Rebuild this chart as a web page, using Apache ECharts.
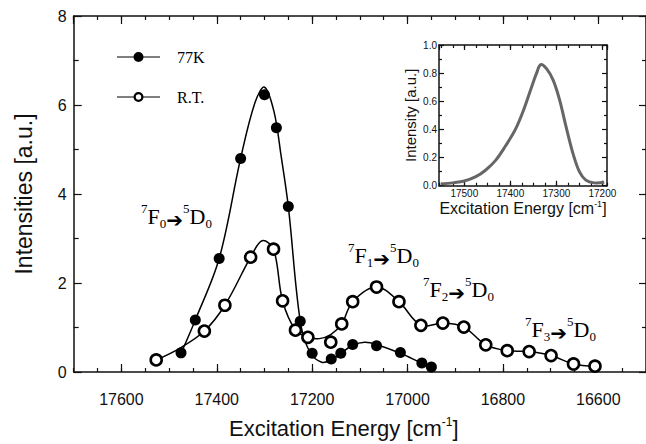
<!DOCTYPE html>
<html><head><meta charset="utf-8">
<script src="https://cdn.jsdelivr.net/npm/echarts@6/dist/echarts.min.js"></script>
<style>html,body{margin:0;padding:0;background:#fff}#c{width:646px;height:444px;background:#fff}</style>
</head><body><div id="c"></div>
<script>
// ---- data ----
const xTickLabels = [17600, 17400, 17200, 17000, 16800, 16600];
const yTickLabels = [0, 2, 4, 6, 8];
const insetXTickLabels = [17500, 17400, 17300, 17200];

// 77K measured points (filled)
const k77X = [17475, 17445, 17395, 17350, 17300, 17275, 17250, 17225, 17200, 17160, 17140, 17115, 17065, 17015, 16970, 16950];
const k77Y = [0.43, 1.17, 2.55, 4.80, 6.23, 5.49, 3.72, 1.14, 0.42, 0.29, 0.42, 0.62, 0.59, 0.44, 0.20, 0.11];
// R.T. measured points (open)
const rtX = [17527, 17426, 17383, 17329, 17281, 17262, 17235, 17209, 17161, 17138, 17115, 17065, 17018, 16972, 16926, 16882, 16836, 16791, 16745, 16699, 16652, 16607];
const rtY = [0.27, 0.92, 1.50, 2.58, 2.76, 1.60, 0.94, 0.78, 0.67, 1.08, 1.58, 1.91, 1.58, 1.05, 1.10, 1.01, 0.61, 0.48, 0.46, 0.37, 0.18, 0.13];

// fitted curves
const fit77X = [17475, 17445, 17395, 17350, 17320, 17300, 17280, 17265, 17250, 17225, 17205, 17180, 17160, 17140, 17115, 17090, 17065, 17015, 16970, 16950];
const fit77Y = [0.42, 1.17, 2.55, 4.80, 6.05, 6.40, 5.85, 4.85, 3.72, 1.14, 0.45, 0.22, 0.27, 0.42, 0.60, 0.67, 0.62, 0.42, 0.20, 0.11];
const fitRtX = [17527, 17475, 17426, 17383, 17329, 17305, 17281, 17262, 17235, 17209, 17185, 17161, 17138, 17115, 17065, 17018, 16972, 16926, 16882, 16836, 16791, 16745, 16699, 16652, 16607];
const fitRtY = [0.27, 0.55, 0.92, 1.50, 2.58, 2.95, 2.76, 1.60, 0.94, 0.78, 0.75, 0.84, 1.08, 1.58, 1.91, 1.58, 1.05, 1.10, 1.01, 0.61, 0.48, 0.46, 0.37, 0.18, 0.13];

// inset spectrum
const insetX = [17551, 17525, 17500, 17475, 17454, 17432, 17411, 17389, 17371, 17354, 17343, 17334, 17321, 17307, 17293, 17279, 17264, 17250, 17236, 17218, 17196];
const insetY = [0.012, 0.02, 0.033, 0.064, 0.11, 0.18, 0.28, 0.40, 0.54, 0.70, 0.80, 0.86, 0.83, 0.75, 0.61, 0.42, 0.23, 0.10, 0.04, 0.02, 0.024];

// ---- chart ----
const zip = (a, b) => a.map((v, i) => [v, b[i]]);
const AX = '#111';
const SANS = 'Liberation Sans';
const SERIF = 'Liberation Serif';

function xAxisDef(grid, pos, min, max, tickLen, major, step, extra) {
  const a = {
    gridIndex: grid, type: 'value', position: pos, min: min, max: max, inverse: true,
    minInterval: step, maxInterval: step,
    axisLine: { show: major, onZero: false, lineStyle: { color: AX, width: 1.5 } },
    axisTick: { show: true, inside: true, length: tickLen, lineStyle: { color: AX, width: 1.2 } },
    axisLabel: { show: false },
    splitLine: { show: false }
  };
  return Object.assign(a, extra || {});
}
function yAxisDef(grid, pos, max, step, tickLen, minorLen, extra) {
  const a = {
    gridIndex: grid, type: 'value', position: pos, min: 0, max: max, interval: step,
    axisLine: { show: true, onZero: false, lineStyle: { color: AX, width: 1.5 } },
    axisTick: { show: true, inside: true, length: tickLen, lineStyle: { color: AX, width: 1.2 } },
    minorTick: { show: true, splitNumber: 2, length: minorLen, lineStyle: { color: AX, width: 1.2 } },
    axisLabel: { show: false },
    splitLine: { show: false }
  };
  return Object.assign(a, extra || {});
}

// smooth curve drawn once per series through the library's coordinate mapping
function curveSeries(name, xs, ys, xi, yi, color, width) {
  return {
    type: 'custom', name: name, xAxisIndex: xi, yAxisIndex: yi,
    data: zip(xs, ys), silent: true, z: 2,
    itemStyle: { color: color },
    renderItem: function (params, api) {
      if (params.dataIndex !== 0) return null;
      const pts = xs.map((x, i) => api.coord([x, ys[i]]));
      return {
        type: 'polyline', silent: true,
        shape: { points: pts, smooth: 0.35 },
        style: { stroke: color, lineWidth: width, fill: null }
      };
    }
  };
}

const icon77 = 'path://M0,4.4V5.6H17V4.4Z M26,4.4V5.6H43V4.4Z M16.5,5A5,5,0,1,0,26.5,5A5,5,0,1,0,16.5,5Z';
const iconRT = 'path://M0,4.4V5.6H17V4.4Z M26,4.4V5.6H43V4.4Z M16.5,5A5,5,0,1,0,26.5,5A5,5,0,1,0,16.5,5Z M18.8,5A2.7,2.7,0,1,1,24.2,5A2.7,2.7,0,1,1,18.8,5Z';

const option = {
  animation: false,
  grid: [
    { left: 73.7, right: -4, top: 16, bottom: 64 },
    { left: 439, top: 45, width: 168, height: 140.7 }
  ],
  legend: {
    data: [{ name: '77K', icon: icon77 }, { name: 'R.T.', icon: iconRT }],
    orient: 'vertical', left: 112, top: 44,
    itemWidth: 43, itemHeight: 10, itemGap: 24,
    textStyle: { fontFamily: SERIF, fontSize: 16, color: '#000', padding: [0, 0, 0, 12], lineHeight: 16 }
  },
  xAxis: [
    xAxisDef(0, 'bottom', 16500, 17700, 8, true, 200, {
      axisLabel: {
        show: true, margin: 19, fontSize: 16, fontFamily: SANS, color: AX,
        showMinLabel: false, showMaxLabel: false,
        formatter: v => xTickLabels.includes(v) ? String(v) : ''
      },
      name: '{a|Excitation Energy [cm}{s|-1}{a|]}', nameLocation: 'middle', nameGap: 44,
      nameTextStyle: { padding: [0, 32, 0, 0], rich: {
        a: { fontFamily: SANS, fontSize: 22, color: AX, lineHeight: 24 },
        s: { fontFamily: SANS, fontSize: 12, color: AX, verticalAlign: 'top', lineHeight: 14 }
      } }
    }),
    xAxisDef(0, 'bottom', 16500, 17700, 4, false, 50),
    xAxisDef(0, 'top', 16500, 17700, 8, true, 200),
    xAxisDef(0, 'top', 16500, 17700, 4, false, 50),
    xAxisDef(1, 'bottom', 17190, 17555, 5, true, 100, {
      axisLabel: {
        show: true, margin: 3, fontSize: 10, fontFamily: SANS, color: AX,
        showMinLabel: false, showMaxLabel: false,
        formatter: v => insetXTickLabels.includes(v) ? String(v) : ''
      },
      name: '{a|Excitation Energy [cm}{s|-1}{a|]}', nameLocation: 'middle', nameGap: 13,
      nameTextStyle: { rich: {
        a: { fontFamily: SANS, fontSize: 16, color: AX, lineHeight: 18 },
        s: { fontFamily: SANS, fontSize: 9, color: AX, verticalAlign: 'top', lineHeight: 10 }
      } }
    }),
    xAxisDef(1, 'bottom', 17190, 17555, 3, false, 25),
    xAxisDef(1, 'top', 17190, 17555, 5, true, 100),
    xAxisDef(1, 'top', 17190, 17555, 3, false, 25)
  ],
  yAxis: [
    yAxisDef(0, 'left', 8, 2, 8, 5, {
      axisLabel: { show: true, margin: 7, fontSize: 16, fontFamily: SANS, color: AX, formatter: v => yTickLabels.includes(v) ? String(v) : '' },
      name: 'Intensities [a.u.]', nameLocation: 'middle', nameGap: 38,
      nameTextStyle: { fontFamily: SANS, fontSize: 23, color: AX }
    }),
    yAxisDef(0, 'right', 8, 2, 7, 4),
    yAxisDef(1, 'left', 1, 0.2, 5, 3, {
      axisLabel: { show: true, margin: 2, fontSize: 10, fontFamily: SANS, color: AX, formatter: v => v.toFixed(1) },
      name: 'Intensity [a.u.]', nameLocation: 'middle', nameGap: 21,
      nameTextStyle: { fontFamily: SANS, fontSize: 15, color: AX }
    }),
    yAxisDef(1, 'right', 1, 0.2, 5, 3)
  ],
  series: [
    curveSeries('77K', fit77X, fit77Y, 0, 0, '#000', 1.5),
    curveSeries('R.T.', fitRtX, fitRtY, 0, 0, '#000', 1.5),
    { type: 'scatter', name: '77K points', xAxisIndex: 0, yAxisIndex: 0, data: zip(k77X, k77Y),
      symbol: 'circle', symbolSize: 11, z: 3, silent: true, itemStyle: { color: '#000', opacity: 1 } },
    { type: 'scatter', name: 'R.T. points', xAxisIndex: 0, yAxisIndex: 0, data: zip(rtX, rtY),
      symbol: 'circle', symbolSize: 11, z: 4, silent: true, itemStyle: { color: '#fff', borderColor: '#000', borderWidth: 2.6, opacity: 1 } },
    curveSeries('inset', insetX, insetY, 4, 2, '#666', 3)
  ],
  graphic: []
};

function transition(x, y, lower) {
  return {
    type: 'text', x: x, y: y, silent: true, z: 10,
    style: {
      text: '{s|7}{b|F}{d|' + lower + '}{a|\u2794}{s|5}{b|D}{d|0}',
      align: 'left', verticalAlign: 'middle',
      rich: {
        b: { fontFamily: SERIF, fontSize: 22, lineHeight: 28, fill: '#000' },
        s: { fontFamily: SERIF, fontSize: 13, lineHeight: 18, verticalAlign: 'top', fill: '#000' },
        d: { fontFamily: SERIF, fontSize: 13, lineHeight: 8, verticalAlign: 'bottom', fill: '#000' },
        a: { fontFamily: 'DejaVu Sans', fontSize: 20, lineHeight: 22, verticalAlign: 'bottom', fill: '#000' }
      }
    }
  };
}
option.graphic = [
  transition(141, 216, '0'),
  transition(348, 255, '1'),
  transition(423, 289, '2'),
  transition(525, 329, '3')
];

const chart = echarts.init(document.getElementById('c'), null, { renderer: 'svg' });
chart.setOption(option);
</script>
</body></html>
